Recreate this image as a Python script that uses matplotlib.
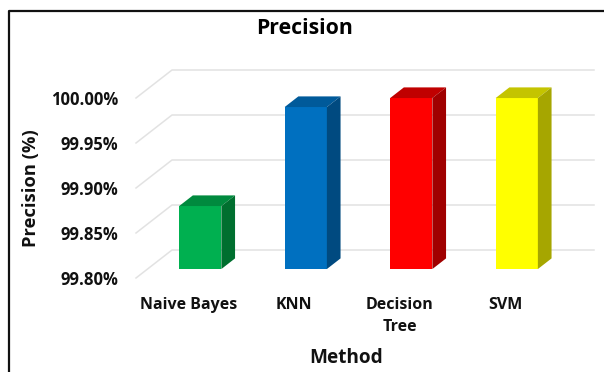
import matplotlib
matplotlib.use("Agg")
import matplotlib.pyplot as plt
from matplotlib.patches import Polygon

methods = ["Naive Bayes", "KNN", "Decision\nTree", "SVM"]
precision = [99.87, 99.98, 99.99, 99.99]
face_colors = ["#00B050", "#0070C0", "#FF0000", "#FFFF00"]
top_colors = ["#008A3E", "#005A9A", "#C00000", "#C4C400"]
side_colors = ["#006F2F", "#004A80", "#A00000", "#A6A600"]
y_ticks = [99.80, 99.85, 99.90, 99.95, 100.00]

W, H = 604, 372
plt.rcParams["font.family"] = ["Open Sans", "DejaVu Sans"]
plt.rcParams["font.weight"] = "bold"

fig = plt.figure(figsize=(W / 100, H / 100), dpi=100)
ax = fig.add_axes([136 / W, 1 - 278 / H, 422 / W, 180 / H])
ax.set_xlim(-0.5, 3.5)
ax.set_ylim(99.80, 100.00)

# oblique depth of the floor in data units
depth_x = 36 / 105.5
depth_y = 28 * 0.2 / 180
bar_w = 0.4
d0, d1 = 0.32, 0.70

for v in y_ticks:
    ax.plot([-0.5, -0.5 + depth_x, 3.5 + depth_x], [v, v + depth_y, v + depth_y],
            color="#E2E2E2", lw=1.1, clip_on=False, zorder=1)

for i, v in enumerate(precision):
    xl = i - bar_w / 2 + d0 * depth_x
    xr = i + bar_w / 2 + d0 * depth_x
    y0 = y_ticks[0] + d0 * depth_y
    y1 = v + d0 * depth_y
    ox = (d1 - d0) * depth_x
    oy = (d1 - d0) * depth_y
    ax.bar(xl + bar_w / 2, v - y_ticks[0], width=bar_w, bottom=y0, color=face_colors[i],
           clip_on=False, zorder=3)
    ax.add_patch(Polygon([(xl, y1), (xr, y1), (xr + ox, y1 + oy), (xl + ox, y1 + oy)],
                         color=top_colors[i], lw=0, clip_on=False, zorder=3))
    ax.add_patch(Polygon([(xr, y0), (xr + ox, y0 + oy), (xr + ox, y1 + oy), (xr, y1)],
                         color=side_colors[i], lw=0, clip_on=False, zorder=3))

for s in ax.spines.values():
    s.set_visible(False)
ax.set_xticks(range(len(methods)))
ax.set_xticklabels(methods, fontsize=11.5, linespacing=1.56, color="#111111")
ax.set_yticks(y_ticks)
ax.set_yticklabels([f"{v:.2f}%" for v in y_ticks], fontsize=12, color="#111111")
ax.tick_params(axis="x", length=0, pad=13.5)
ax.tick_params(axis="y", length=0, pad=13)

fig.text(305 / W, 1 - 28 / H, "Precision", ha="center", va="center", fontsize=15.3, color="black")
fig.text(346.5 / W, 1 - 358 / H, "Method", ha="center", va="center", fontsize=13.7, color="#111111")
fig.text(31 / W, 1 - 188 / H, "Precision (%)", ha="center", va="center", rotation=90,
         fontsize=13.2, color="#111111")

# chart frame, only top and left fall inside the crop
fig.add_artist(plt.Line2D([8.5 / W, 8.5 / W, 1], [0, 1 - 10.5 / H, 1 - 10.5 / H],
                          color="#111111", lw=1.6))

fig.savefig("out.png", dpi=100)
